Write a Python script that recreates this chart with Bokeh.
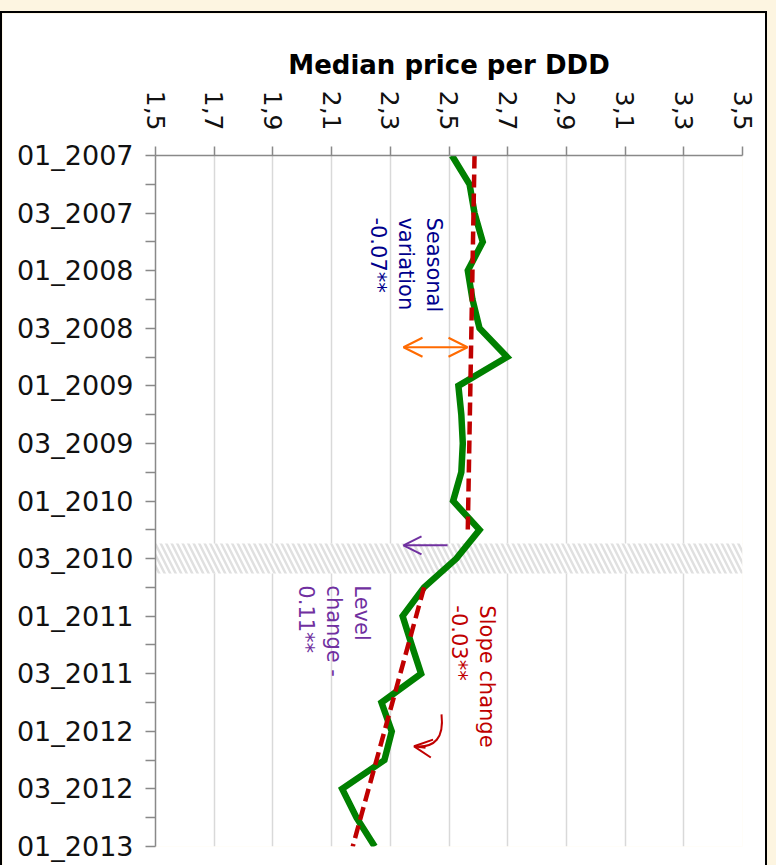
import math
from bokeh.plotting import figure
from bokeh.models import Range1d, FixedTicker, Arrow, OpenHead, Label
from bokeh.embed import file_html
from bokeh.resources import INLINE

# ---------------- data ----------------
quarters = ["01_2007", "02_2007", "03_2007", "04_2007",
            "01_2008", "02_2008", "03_2008", "04_2008",
            "01_2009", "02_2009", "03_2009", "04_2009",
            "01_2010", "02_2010", "03_2010", "04_2010",
            "01_2011", "02_2011", "03_2011", "04_2011",
            "01_2012", "02_2012", "03_2012", "04_2012",
            "01_2013"]
quarter_idx = list(range(len(quarters)))

median_price = [2.510, 2.570, 2.587, 2.615, 2.564, 2.580, 2.604, 2.698,
                2.532, 2.542, 2.547, 2.542, 2.514, 2.604, 2.525, 2.415,
                2.342, 2.373, 2.405, 2.270, 2.305, 2.280, 2.136, 2.185,
                2.247]

trend_pre_idx = [0, 13]
trend_pre_val = [2.587, 2.564]
trend_post_idx = [15, 24]
trend_post_val = [2.415, 2.172]

intervention_band = [13.48, 14.52]

x_ticks = [1.5, 1.7, 1.9, 2.1, 2.3, 2.5, 2.7, 2.9, 3.1, 3.3, 3.5]
x_tick_labels = ["1,5", "1,7", "1,9", "2,1", "2,3", "2,5", "2,7", "2,9", "3,1", "3,3", "3,5"]

seasonal_text = "Seasonal\nvariation\n-0.07**"
level_text = "Level\nchange -\n0.11**"
slope_text = "Slope change\n-0.03**"

FONT = "DejaVu Sans"
GREEN = "#008000"
RED = "#C00000"
ORANGE = "#FF6A00"
PURPLE = "#7030A0"
NAVY = "#00008C"

# ---------------- figure ----------------
p = figure(width=767, height=856,
           x_range=Range1d(1.5, 3.5), y_range=Range1d(24, 0),
           x_axis_location="above",
           output_backend="svg", toolbar_location=None,
           min_border_left=153, min_border_right=27,
           min_border_top=142, min_border_bottom=23)
p.background_fill_color = "white"
p.border_fill_color = "white"
p.outline_line_color = None
p.styles = {"border": "2px solid #000000", "margin-top": "11px"}

# x axis (top)
xa = p.xaxis[0]
xa.ticker = FixedTicker(ticks=x_ticks)
xa.major_label_overrides = {t: l for t, l in zip(x_ticks, x_tick_labels)}
xa.major_label_orientation = -math.pi / 2
xa.major_label_text_font = FONT
xa.major_label_text_font_size = "25px"
xa.major_label_text_color = "#111111"
xa.major_label_standoff = 16
xa.axis_label = "Median price per DDD"
xa.axis_label_text_font = FONT
xa.axis_label_text_font_style = "bold"
xa.axis_label_text_font_size = "26px"
xa.axis_label_text_color = "#000000"
xa.axis_label_standoff = 8
xa.axis_line_color = "#898989"
xa.axis_line_width = 1.5
xa.major_tick_line_color = "#898989"
xa.major_tick_line_width = 1.5
xa.major_tick_out = 9
xa.major_tick_in = 0
xa.minor_tick_line_color = None

# y axis (left)
ya = p.yaxis[0]
ya.ticker = FixedTicker(ticks=quarter_idx[::2], minor_ticks=quarter_idx[1::2])
ya.major_label_overrides = {i: quarters[i] for i in quarter_idx[::2]}
ya.major_label_text_font = FONT
ya.major_label_text_font_size = "27px"
ya.major_label_text_color = "#111111"
ya.major_label_standoff = 12
ya.axis_line_color = "#898989"
ya.axis_line_width = 1.5
ya.major_tick_line_color = "#898989"
ya.major_tick_line_width = 1.5
ya.minor_tick_line_color = "#898989"
ya.minor_tick_line_width = 1.5
ya.major_tick_out = 10
ya.major_tick_in = 0
ya.minor_tick_out = 10
ya.minor_tick_in = 0

p.xgrid.grid_line_color = "#d9d9d9"
p.xgrid.grid_line_width = 1.5
p.ygrid.grid_line_color = None

# intervention band (hatched, white underneath so gridlines are hidden)
p.quad(left=[x_ticks[0]], right=[x_ticks[-1]],
       bottom=[intervention_band[1]], top=[intervention_band[0]],
       fill_color="white", fill_alpha=1, line_color=None,
       hatch_pattern="\\", hatch_color="#e0e0e0", hatch_scale=11, hatch_weight=2.5)

# series
p.line(x=median_price, y=quarter_idx, line_color=GREEN, line_width=6.5, line_join="miter")
p.line(x=trend_pre_val, y=trend_pre_idx, line_color=RED, line_width=4.5,
       line_dash="13 6")
p.line(x=trend_post_val, y=trend_post_idx, line_color=RED, line_width=4.5,
       line_dash="13 6")

# arrows
p.add_layout(Arrow(x_start=2.563, y_start=6.66, x_end=2.345, y_end=6.66,
                   line_color=ORANGE, line_width=2,
                   start=OpenHead(size=19, line_color=ORANGE, line_width=2),
                   end=OpenHead(size=19, line_color=ORANGE, line_width=2)))
p.add_layout(Arrow(x_start=2.495, y_start=13.54, x_end=2.345, y_end=13.54,
                   line_color=PURPLE, line_width=2,
                   end=OpenHead(size=18, line_color=PURPLE, line_width=2)))
p.quadratic(x0=[2.4745], y0=[19.41], x1=[2.3825], y1=[20.52], cx=[2.4880], cy=[20.62],
            line_color=RED, line_width=2)
p.add_layout(Arrow(x_start=2.42, y_start=20.57, x_end=2.381, y_end=20.52,
                   line_color=RED, line_width=2,
                   end=OpenHead(size=18, line_color=RED, line_width=2)))

# annotation texts
for txt, x, y, col in [(seasonal_text, 2.4898, 2.15, NAVY),
                       (level_text, 2.2444, 14.93, PURPLE),
                       (slope_text, 2.6704, 15.625, RED)]:
    p.add_layout(Label(x=x, y=y, text=txt, angle=-math.pi / 2,
                       text_align="left", text_baseline="top",
                       text_font=FONT, text_font_size="21px", text_color=col,
                       text_line_height=1.17))

html = file_html(p, INLINE, title="Median price per DDD")
html = html.replace("</head>",
                    "<style>html,body{margin:0;padding:0;background:#FDF5E1;overflow:hidden;}</style></head>", 1)
open("out.html", "w").write(html)
